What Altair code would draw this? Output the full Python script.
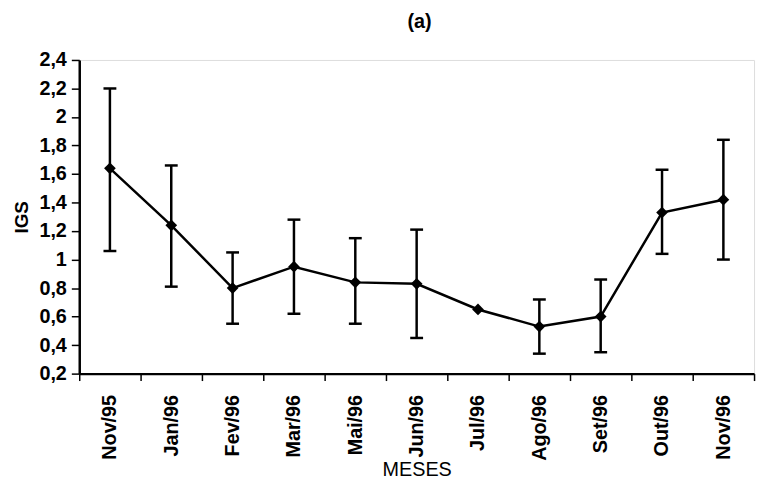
import altair as alt
import pandas as pd

months = ["Nov/95", "Jan/96", "Fev/96", "Mar/96", "Mai/96", "Jun/96",
          "Jul/96", "Ago/96", "Set/96", "Out/96", "Nov/96"]
mean = [1.64, 1.24, 0.80, 0.95, 0.84, 0.83, 0.65, 0.53, 0.60, 1.33, 1.42]
upper = [2.20, 1.66, 1.05, 1.28, 1.15, 1.21, None, 0.72, 0.86, 1.63, 1.84]
lower = [1.06, 0.81, 0.55, 0.62, 0.55, 0.45, None, 0.34, 0.35, 1.04, 1.00]
y_ticks = [0.2, 0.4, 0.6, 0.8, 1.0, 1.2, 1.4, 1.6, 1.8, 2.0, 2.2, 2.4]

df = pd.DataFrame({"mes": months, "igs": mean, "sup": upper, "inf": lower})
err = df.dropna()

FONT = "Liberation Sans"

x = alt.X("mes:N", sort=months,
          scale=alt.Scale(type="band", paddingInner=0, paddingOuter=0),
          axis=alt.Axis(title="MESES", labelAngle=-90, tickBand="extent",
                        labelFont=FONT, labelFontSize=20, labelFontWeight="bold",
                        labelColor="black", labelPadding=14, tickSize=7,
                        tickColor="black", tickWidth=1.5,
                        domainColor="black", domainWidth=2.5,
                        titleFont=FONT, titleFontSize=20, titleFontWeight="normal",
                        titleColor="black", titleY=103,
                        titleBaseline="alphabetic"))
yscale = alt.Scale(domain=[0.2, 2.4], nice=False, zero=False)
yaxis = alt.Axis(title="IGS", values=y_ticks, grid=False,
                 labelExpr="replace(format(datum.value, '.1~f'), '.', ',')",
                 labelFont=FONT, labelFontSize=20, labelFontWeight="bold",
                 labelColor="black", labelPadding=5, tickSize=8,
                 tickColor="black", tickWidth=1.5,
                 domainColor="black", domainWidth=2.5,
                 titleFont=FONT, titleFontSize=19, titleFontWeight="bold",
                 titleColor="black", titlePadding=7)

line = alt.Chart(df).mark_line(color="black", strokeWidth=2.5).encode(
    x=x, y=alt.Y("igs:Q", scale=yscale, axis=yaxis))
pts = alt.Chart(df).mark_point(shape="diamond", filled=True, color="black",
                               size=140, opacity=1).encode(
    x=x, y=alt.Y("igs:Q", scale=yscale, axis=yaxis))
rules = alt.Chart(err).mark_rule(color="black", strokeWidth=2.5).encode(
    x=x, y=alt.Y("inf:Q", scale=yscale, axis=yaxis), y2="sup:Q")
cap_hi = alt.Chart(err).mark_tick(color="black", thickness=2.5, size=13,
                                  opacity=1).encode(
    x=x, y=alt.Y("sup:Q", scale=yscale, axis=yaxis))
cap_lo = alt.Chart(err).mark_tick(color="black", thickness=2.5, size=13,
                                  opacity=1).encode(
    x=x, y=alt.Y("inf:Q", scale=yscale, axis=yaxis))

chart = alt.layer(rules, cap_hi, cap_lo, line, pts).properties(
    width=682, height=317,
    autosize=alt.AutoSizeParams(type="none"),
    padding={"left": 72, "top": 50, "right": 5, "bottom": 105},
    title=alt.TitleParams("(a)", font=FONT, fontSize=20, fontWeight="bold",
                          color="black", anchor="middle", offset=18, dx=3),
).configure_view(stroke="black", strokeWidth=1.5).configure(background="white")

chart.save("out.html", embed_options={"renderer": "svg", "actions": False})
